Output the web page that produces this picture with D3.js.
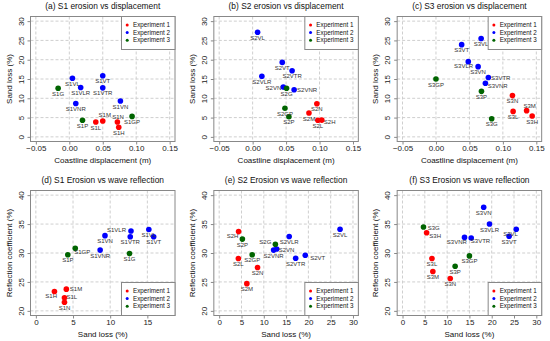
<!DOCTYPE html>
<html>
<head>
<meta charset="utf-8">
<script src="https://cdn.jsdelivr.net/npm/d3@7"></script>
<style>
  body { margin: 0; background: #fff; }
  text { font-family: "Liberation Sans", Arial, sans-serif; }
</style>
</head>
<body>
<script>
// cases, same order for every structure
let cases = ["L", "M", "N", "H", "VL", "VT", "VLR", "VTR", "VN", "VNR", "G", "GP", "P"];
let experiment = [1, 1, 1, 1, 2, 2, 2, 2, 2, 2, 3, 3, 3];
let expNames = ["Experiment 1", "Experiment 2", "Experiment 3"];

// coastline displacement (m)
let dispS1 = [0.0396, 0.050, 0.0719, 0.0739, 0.0047, 0.050, 0.017, 0.050, 0.0764, 0.0097, -0.0167, 0.0938, 0.0197];
let dispS2 = [0.0975, 0.0842, 0.096, 0.1034, 0.0074, 0.0443, 0.0138, 0.059, 0.0458, 0.062, 0.0507, 0.0483, 0.0542];
let dispS3 = [0.1153, 0.1355, 0.1143, 0.1438, 0.0675, 0.0384, 0.0483, 0.0783, 0.063, 0.0739, 0.0833, 0.0, 0.068];

// sand loss (%)
let sandS1 = [3.85, 4.1, 3.85, 2.5, 15.2, 15.85, 12.8, 12.7, 9.3, 8.65, 12.6, 5.3, 4.3];
let sandS2 = [4.3, 6.2, 8.6, 4.35, 27.1, 19.3, 15.7, 17.15, 12.9, 12.2, 12.6, 7.4, 5.2];
let sandS3 = [6.6, 6.8, 10.7, 5.4, 25.5, 23.9, 19.5, 15.4, 18.2, 13.9, 4.7, 15.0, 11.8];

// reflection coefficient (%)
let reflS1 = [22.25, 23.75, 21.5, 23.35, 34.06, 32.8, 33.8, 32.8, 33.0, 30.5, 29.9, 30.8, 29.7];
let reflS2 = [29.05, 24.7, 27.5, 33.7, 34.1, 29.6, 32.85, 29.1, 30.7, 30.5, 31.5, 29.7, 32.4];
let reflS3 = [29.05, 26.8, 25.6, 33.5, 34.1, 32.9, 35.0, 32.6, 37.9, 32.7, 34.5, 29.5, 27.7];

let titles = [
  "(a) S1 erosion vs displacement", "(b) S2 erosion vs displacement", "(c) S3 erosion vs displacement",
  "(d) S1 Erosion vs wave reflection", "(e) S2 Erosion vs wave reflection", "(f) S3 Erosion vs wave reflection"
];

let dispTicks = [-0.05, 0, 0.05, 0.10, 0.15];
let sandTicks = [0, 5, 10, 15, 20, 25, 30];
let sandTicksD = [0, 5, 10, 15];
let reflTicks = [20, 25, 30, 35, 40];

let colors = ["#ff0000", "#0000ff", "#006400"];

let width = 550;
let height = 341;
let colW = 550 / 3;
let box = { left: 30.5, right: 175 };
let rows = [{ top: 16.5, bottom: 141.5 }, { top: 190.5, bottom: 315.5 }];

// label nudges (dx, dy, anchor); default is below the point
let labelAdj = {
  "0S1M": [2, -6], "0S1N": [0.7, -5.3],
  "1S2VN": [-2, 1, "end"], "1S2VNR": [3, 0, "start"], "1S2H": [2, 2, "start"],
  "2S3VTR": [2.7, 0, "start"], "2S3VNR": [2.3, 3, "start"], "2S3M": [3, -4.5], "2S3VLR": [-4.7, 4.3],
  "3S1VLR": [-5, -1.3, "end"], "3S1GP": [7, 3.7], "3S1M": [3.5, 0, "start"], "3S1L": [2, -0.7, "start"], "3S1H": [-3.3, 4.3],
  "4S2H": [-6, 4.3], "4S2G": [-4, -2.3, "end"], "4S2VN": [2, 0.5, "start"], "4S2VT": [5, 2.3, "start"],
  "5S3G": [4.3, 0.7, "start"], "5S3H": [2.7, 3, "start"], "5S3VNR": [-7.7, 4.3], "5S3VTR": [9.3, 3.3], "5S3VL": [-5.7, 4.3]
};

// R-style axis range: limits stretched by 4%
function ext(lim) {
  let d = (lim[1] - lim[0]) * 0.04;
  return [lim[0] - d, lim[1] + d];
}

let panels = [
  { s: "S1", x: dispS1, y: sandS1, xlim: [-0.05, 0.15], ylim: [0, 30], xt: dispTicks, yt: sandTicks, fmt: ".2f", xl: "Coastline displacement (m)", yl: "Sand loss (%)", leg: "top" },
  { s: "S2", x: dispS2, y: sandS2, xlim: [-0.05, 0.15], ylim: [0, 30], xt: dispTicks, yt: sandTicks, fmt: ".2f", xl: "Coastline displacement (m)", yl: "Sand loss (%)", leg: "top" },
  { s: "S3", x: dispS3, y: sandS3, xlim: [-0.05, 0.15], ylim: [0, 30], xt: dispTicks, yt: sandTicks, fmt: ".2f", xl: "Coastline displacement (m)", yl: "Sand loss (%)", leg: "top" },
  { s: "S1", x: sandS1, y: reflS1, xlim: [0, 18], ylim: [20, 40], xt: sandTicksD, yt: reflTicks, fmt: "d", xl: "Sand loss (%)", yl: "Reflection coefficient (%)", leg: "bottom" },
  { s: "S2", x: sandS2, y: reflS2, xlim: [0, 30], ylim: [20, 40], xt: sandTicks, yt: reflTicks, fmt: "d", xl: "Sand loss (%)", yl: "Reflection coefficient (%)", leg: "bottom" },
  { s: "S3", x: sandS3, y: reflS3, xlim: [0, 30], ylim: [20, 40], xt: sandTicks, yt: reflTicks, fmt: "d", xl: "Sand loss (%)", yl: "Reflection coefficient (%)", leg: "bottom" }
];

let svg = d3.select("body")
  .append("svg")
  .attr("width", width)
  .attr("height", height);

panels.forEach((p, i) => {
  let row = rows[Math.floor(i / 3)];
  let g = svg.append("g").attr("transform", `translate(${(i % 3) * colW},0)`);

  let x = d3.scaleLinear().domain(ext(p.xlim)).range([box.left, box.right]);
  let y = d3.scaleLinear().domain(ext(p.ylim)).range([row.bottom, row.top]);

  // grid
  g.append("g")
    .selectAll("line")
    .data(p.xt)
    .join("line")
      .attr("x1", d => x(d)).attr("x2", d => x(d))
      .attr("y1", row.top).attr("y2", row.bottom)
      .attr("stroke", "#cfcfcf").attr("stroke-dasharray", "3,2");
  g.append("g")
    .selectAll("line")
    .data(p.yt)
    .join("line")
      .attr("y1", d => y(d)).attr("y2", d => y(d))
      .attr("x1", box.left).attr("x2", box.right)
      .attr("stroke", "#cfcfcf").attr("stroke-dasharray", "3,2");

  // axes
  let xAxis = g.append("g")
    .attr("transform", `translate(0,${row.bottom})`)
    .call(d3.axisBottom(x).tickValues(p.xt).tickFormat(d3.format(p.fmt)).tickSize(3).tickPadding(2));
  xAxis.select(".domain").remove();
  xAxis.selectAll("line").attr("stroke", "#888");
  xAxis.selectAll("text").attr("font-size", 8).attr("fill", "#222").attr("y", 6.8).attr("dy", "0.35em");

  let yAxis = g.append("g")
    .attr("transform", `translate(${box.left},0)`)
    .call(d3.axisLeft(y).tickValues(p.yt).tickSize(3));
  yAxis.select(".domain").remove();
  yAxis.selectAll("line").attr("stroke", "#888");
  yAxis.selectAll("text")
    .attr("font-size", 8).attr("fill", "#222")
    .attr("transform", "rotate(-90)")
    .attr("x", 0).attr("y", -9.5).attr("dy", "0.35em")
    .attr("text-anchor", "middle");

  // box
  g.append("rect")
    .attr("x", box.left).attr("y", row.top)
    .attr("width", box.right - box.left).attr("height", row.bottom - row.top)
    .attr("fill", "none").attr("stroke", "#888");

  // titles and labels
  g.append("text")
    .attr("x", (box.left + box.right) / 2).attr("y", row.top - 10.5).attr("dy", "0.35em")
    .attr("text-anchor", "middle").attr("font-size", 8.4).attr("fill", "#111")
    .text(titles[i]);
  g.append("text")
    .attr("x", (box.left + box.right) / 2).attr("y", row.bottom + 18.2).attr("dy", "0.35em")
    .attr("text-anchor", "middle").attr("font-size", 8).attr("fill", "#111")
    .text(p.xl);
  g.append("text")
    .attr("transform", `translate(${box.left - 21.5},${(row.top + row.bottom) / 2}) rotate(-90)`)
    .attr("dy", "0.35em")
    .attr("text-anchor", "middle").attr("font-size", 8).attr("fill", "#111")
    .text(p.yl);

  // points
  let idx = d3.range(cases.length);
  g.append("g")
    .selectAll("circle")
    .data(idx)
    .join("circle")
      .attr("cx", k => x(p.x[k]))
      .attr("cy", k => y(p.y[k]))
      .attr("r", 2.8)
      .attr("fill", k => colors[experiment[k] - 1]);

  g.append("g")
    .selectAll("text")
    .data(idx)
    .join("text")
      .each(function (k) {
        let name = p.s + cases[k];
        let a = labelAdj[i + name] || [0, 5.5, "middle"];
        d3.select(this)
          .attr("x", x(p.x[k]) + a[0])
          .attr("y", y(p.y[k]) + a[1])
          .attr("text-anchor", a[2] || "middle")
          .text(name);
      })
      .attr("dy", "0.35em")
      .attr("font-size", 6)
      .attr("fill", "#333");

  // legend
  let lw = 53.5, lh = 33;
  let lx = box.right - lw;
  let ly = p.leg == "top" ? row.top : row.bottom - lh;
  let leg = g.append("g");
  leg.append("rect")
    .attr("x", lx).attr("y", ly).attr("width", lw).attr("height", lh)
    .attr("fill", "#fff").attr("stroke", "#888");
  leg.selectAll("circle")
    .data(expNames)
    .join("circle")
      .attr("cx", lx + 5.7)
      .attr("cy", (d, j) => ly + 8.5 + j * 7.6)
      .attr("r", 1.5)
      .attr("fill", (d, j) => colors[j]);
  leg.selectAll("text")
    .data(expNames)
    .join("text")
      .attr("x", lx + 11.5)
      .attr("y", (d, j) => ly + 8.5 + j * 7.6)
      .attr("dy", "0.35em")
      .attr("font-size", 6.3)
      .attr("fill", "#111")
      .text(d => d);
});
</script>
</body>
</html>
